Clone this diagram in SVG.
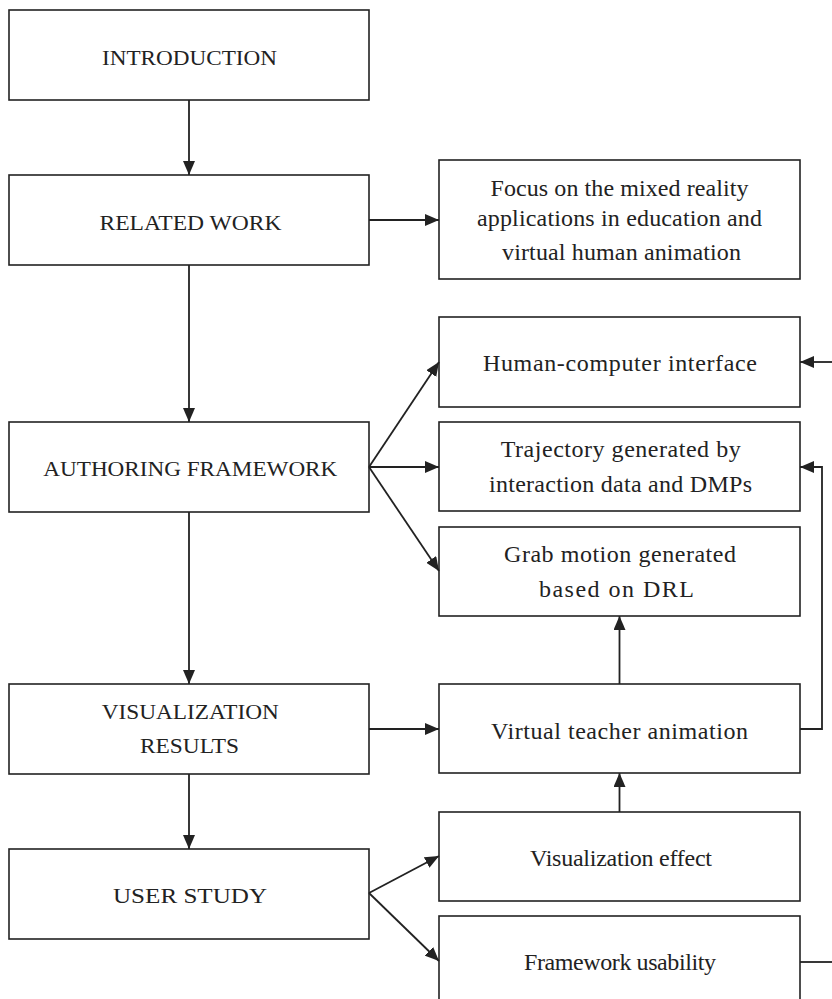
<svg xmlns="http://www.w3.org/2000/svg" width="832" height="999" viewBox="0 0 832 999">
<style>
rect.b{fill:#fff;stroke:#222;stroke-width:1.6}
text{font-family:"Liberation Serif","Times New Roman",serif;font-size:22px;fill:#222;text-anchor:middle}
text.r{font-size:24px}
.c line,.c polyline{stroke:#222;stroke-width:1.8;fill:none}
</style>
<defs>
<marker id="ah" viewBox="0 0 14 12" refX="14" refY="6" markerWidth="14" markerHeight="12" markerUnits="userSpaceOnUse" orient="auto">
<path d="M0,0 L14,6 L0,12 Z" fill="#222"/>
</marker>
</defs>
<g id="intro"><rect class="b" x="9" y="10" width="360" height="90"/><text x="189.5" y="65" textLength="175" lengthAdjust="spacingAndGlyphs">INTRODUCTION</text></g>
<g id="related"><rect class="b" x="9" y="175" width="360" height="90"/><text x="190.5" y="230" textLength="182" lengthAdjust="spacingAndGlyphs">RELATED WORK</text></g>
<g id="authoring"><rect class="b" x="9" y="422" width="360" height="90"/><text x="190.3" y="476" textLength="294" lengthAdjust="spacingAndGlyphs">AUTHORING FRAMEWORK</text></g>
<g id="visres"><rect class="b" x="9" y="684" width="360" height="90"/><text x="190.3" y="719" textLength="177" lengthAdjust="spacingAndGlyphs">VISUALIZATION</text><text x="189.5" y="752.5" textLength="99" lengthAdjust="spacingAndGlyphs">RESULTS</text></g>
<g id="userstudy"><rect class="b" x="9" y="849" width="360" height="90"/><text x="190" y="903" textLength="154" lengthAdjust="spacingAndGlyphs">USER STUDY</text></g>
<g id="focus"><rect class="b" x="439" y="160" width="361" height="119"/><text class="r" x="619.5" y="195.5" textLength="258" lengthAdjust="spacing">Focus on the mixed reality</text><text class="r" x="619.5" y="225.5" textLength="285" lengthAdjust="spacing">applications in education and</text><text class="r" x="621.5" y="260" textLength="239" lengthAdjust="spacing">virtual human animation</text></g>
<g id="hci"><rect class="b" x="439" y="317" width="361" height="90"/><text class="r" x="620" y="371" textLength="274" lengthAdjust="spacing">Human-computer interface</text></g>
<g id="trajectory"><rect class="b" x="439" y="422" width="361" height="89"/><text class="r" x="620.7" y="457" textLength="240" lengthAdjust="spacing">Trajectory generated by</text><text class="r" x="620.5" y="492" textLength="263" lengthAdjust="spacing">interaction data and DMPs</text></g>
<g id="grab"><rect class="b" x="439" y="527" width="361" height="89"/><text class="r" x="620" y="562" textLength="232" lengthAdjust="spacing">Grab motion generated</text><text class="r" x="616.5" y="596.5" textLength="155" lengthAdjust="spacing">based on DRL</text></g>
<g id="teacher"><rect class="b" x="439" y="684" width="361" height="89"/><text class="r" x="619.5" y="739" textLength="257" lengthAdjust="spacing">Virtual teacher animation</text></g>
<g id="viseffect"><rect class="b" x="439" y="812" width="361" height="89"/><text class="r" x="621" y="865.5" textLength="182" lengthAdjust="spacing">Visualization effect</text></g>
<g id="usability"><rect class="b" x="439" y="916" width="361" height="95"/><text class="r" x="620" y="970" textLength="192" lengthAdjust="spacing">Framework usability</text></g>
<g id="connectors" class="c">
<line x1="189" y1="100" x2="189" y2="175" marker-end="url(#ah)"/>
<line x1="369" y1="220" x2="439" y2="220" marker-end="url(#ah)"/>
<line x1="189" y1="265" x2="189" y2="422" marker-end="url(#ah)"/>
<line x1="369" y1="467" x2="439" y2="362" marker-end="url(#ah)"/>
<line x1="369" y1="467" x2="439" y2="467" marker-end="url(#ah)"/>
<line x1="369" y1="467" x2="439" y2="571" marker-end="url(#ah)"/>
<line x1="189" y1="512" x2="189" y2="684" marker-end="url(#ah)"/>
<line x1="369" y1="729" x2="439" y2="729" marker-end="url(#ah)"/>
<line x1="619.5" y1="684" x2="619.5" y2="616" marker-end="url(#ah)"/>
<polyline points="800,729 822,729 822,467 800,467" marker-end="url(#ah)"/>
<line x1="619.5" y1="812" x2="619.5" y2="773" marker-end="url(#ah)"/>
<line x1="189" y1="774" x2="189" y2="849" marker-end="url(#ah)"/>
<line x1="369" y1="893" x2="439" y2="856" marker-end="url(#ah)"/>
<line x1="369" y1="893" x2="439" y2="961" marker-end="url(#ah)"/>
<line x1="800" y1="962" x2="832" y2="962"/>
<line x1="832" y1="362" x2="800" y2="362" marker-end="url(#ah)"/>
</g>
</svg>
